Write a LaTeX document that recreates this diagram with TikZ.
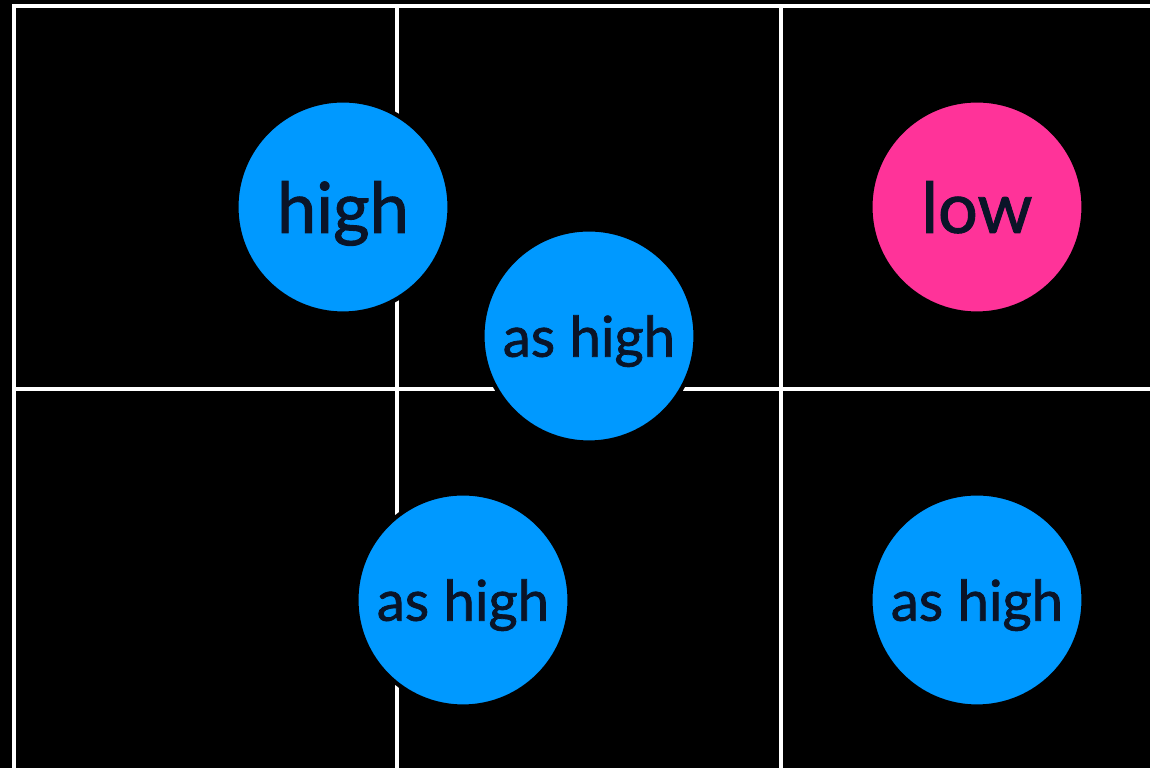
\documentclass[tikz,border=0pt]{standalone}
\usepackage{fontspec}
\setmainfont{Lato}
\newfontfamily\medfont{Lato}[FakeBold=1.3]
\definecolor{bgblack}{HTML}{000000}
\definecolor{ballblue}{HTML}{0099FF}
\definecolor{ballpink}{HTML}{FF3399}
\definecolor{inkdark}{HTML}{0A1428}
\begin{document}
\begin{tikzpicture}[x=0.01cm,y=-0.01cm,
  gridline/.style={draw=white,line width=0.95pt},
  ball/.style={circle,draw=black,line width=1.2pt,minimum size=2.13cm,inner sep=0pt,text=inkdark,text depth=0pt},
  bigtxt/.style={font=\medfont\fontsize{20}{23}\selectfont},
  smalltxt/.style={font=\medfont\fontsize{16}{19}\selectfont}]
\fill[bgblack] (0,0) rectangle (1150,768);
\useasboundingbox (0,0) rectangle (1150,768);
% grid
\draw[gridline] (14,775) -- (14,6) -- (1160,6);
\draw[gridline] (14,389) -- (1160,389);
\draw[gridline] (397,6) -- (397,775);
\draw[gridline] (781,6) -- (781,775);
% balls
\node[ball,fill=ballblue,bigtxt] (high) at (343,207) {high};
\node[ball,fill=ballpink,bigtxt] (low) at (977,207) {low};
\node[ball,fill=ballblue,smalltxt] (ash1) at (589,336) {as high};
\node[ball,fill=ballblue,smalltxt] (ash2) at (463,600) {as high};
\node[ball,fill=ballblue,smalltxt] (ash3) at (977,600) {as high};
\end{tikzpicture}
\end{document}
